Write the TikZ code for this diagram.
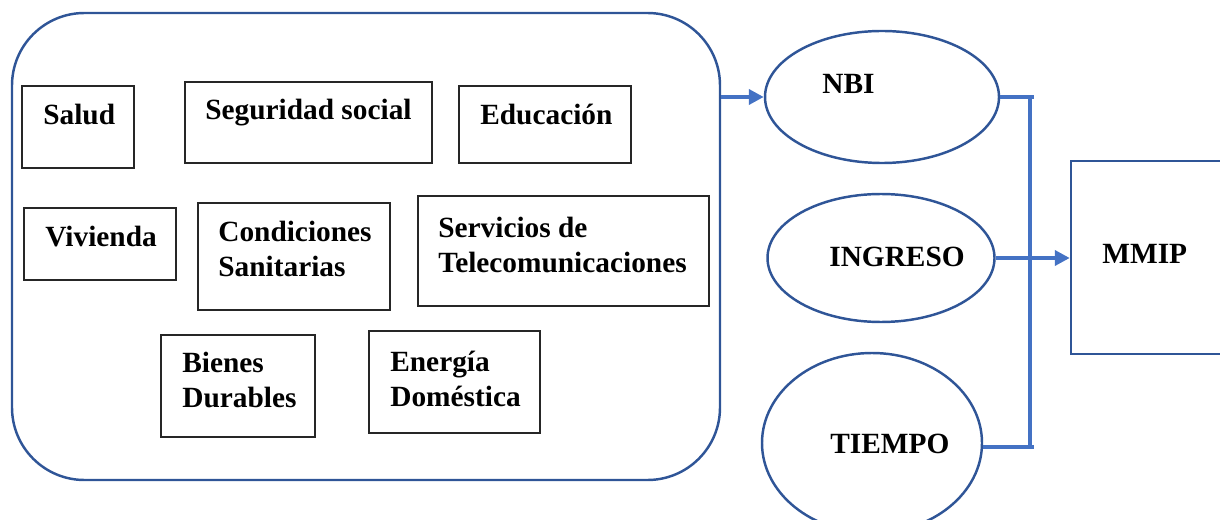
\documentclass[tikz,border=0pt]{standalone}
\usepackage{fontspec}
\setmainfont{Liberation Serif}
\usetikzlibrary{shapes.geometric,arrows.meta}
\definecolor{framedark}{RGB}{47, 85, 151}
\definecolor{linkblue}{RGB}{68, 114, 196}
\tikzstyle{panel} = [
  draw=framedark,
  line width=1.4pt,
  rounded corners=1.45cm,
  inner sep=0,
]
\tikzstyle{item} = [draw=black!85, line width=0.8pt, inner sep=0]
\tikzstyle{factor} = [ellipse, draw=framedark, line width=1.4pt, inner sep=0]
\tikzstyle{word} = [
  font=\bfseries\fontsize{16.7}{19.9}\selectfont,
  inner sep=0,
  anchor=base west,
]
\tikzstyle{words} = [word, align=left, anchor=west]
\tikzstyle{link} = [draw=linkblue, line width=2.2pt]

\begin{document}
\begin{tikzpicture}[x=0.02cm, y=-0.02cm]
            \def\px{0.02cm}
            \useasboundingbox (0,0) rectangle (1220,520);

            % Dimensions
            \node[panel, minimum width=708*\px, minimum height=467*\px] (dims) at (366,246.5) {};

            \node[item, minimum width=112*\px, minimum height=82*\px] (salud) at (78,127) {};
            \node[item, minimum width=247*\px, minimum height=81*\px] (seguridad) at (308.5,122.5) {};
            \node[item, minimum width=172*\px, minimum height=77*\px] (educacion) at (545,124.5) {};
            \node[item, minimum width=152*\px, minimum height=72*\px] (vivienda) at (100,244) {};
            \node[item, minimum width=192*\px, minimum height=107*\px] (condiciones) at (294,256.5) {};
            \node[item, minimum width=291*\px, minimum height=110*\px] (servicios) at (563.5,251) {};
            \node[item, minimum width=154*\px, minimum height=102*\px] (bienes) at (238,386) {};
            \node[item, minimum width=171*\px, minimum height=102*\px] (energia) at (454.5,382) {};

            % Texts of the dimensions
            \node[word] (salud-t) at (43,125) {Salud};
            \node[word] (seguridad-t) at (205,120) {Seguridad social};
            \node[word] (educacion-t) at (480,125) {Educación};
            \node[word] (vivienda-t) at (45,247) {Vivienda};
            \node[words] (condiciones-t) at (218,249) {Condiciones\\Sanitarias};
            \node[words] (servicios-t) at (438,245) {Servicios de\\Telecomunicaciones};
            \node[words] (bienes-t) at (182,380) {Bienes\\Durables};
            \node[words] (energia-t) at (390,379) {Energía\\Doméstica};

            % Methods
            \node[factor, minimum width=234*\px, minimum height=132*\px] (nbi) at (882,97) {};
            \node[factor, minimum width=227*\px, minimum height=128*\px] (ingreso) at (881,258) {};
            \node[factor, minimum width=220*\px, minimum height=180*\px] (tiempo) at (872,443) {};
            \node[word] (nbi-t) at (822,94) {NBI};
            \node[word] (ingreso-t) at (829,266) {INGRESO};
            \node[word] (tiempo-t) at (830,453) {TIEMPO};

            % Result
            \node[draw=framedark, line width=1.4pt, minimum width=160*\px, minimum height=193*\px] (mmip) at (1151,257.5) {};
            \node[word] (mmip-t) at (1102,263) {MMIP};

            % Connectors
            \coordinate (top) at (1034,97);
            \coordinate (bot) at (1034,447);
            \draw[link, -{Triangle[length=0.3cm, width=0.3cm]}] (dims.east |- nbi.west) -- (nbi.west);
            \draw[link] (nbi.east) -- (top);
            \draw[link] (tiempo.east |- bot) -- (bot);
            \draw[link] ([xshift=-4*\px]top) -- ([xshift=-4*\px]bot);
            \draw[link, -{Triangle[length=0.3cm, width=0.3cm]}] (ingreso.east) -- (ingreso.east -| mmip.west);
          \end{tikzpicture}
\end{document}
